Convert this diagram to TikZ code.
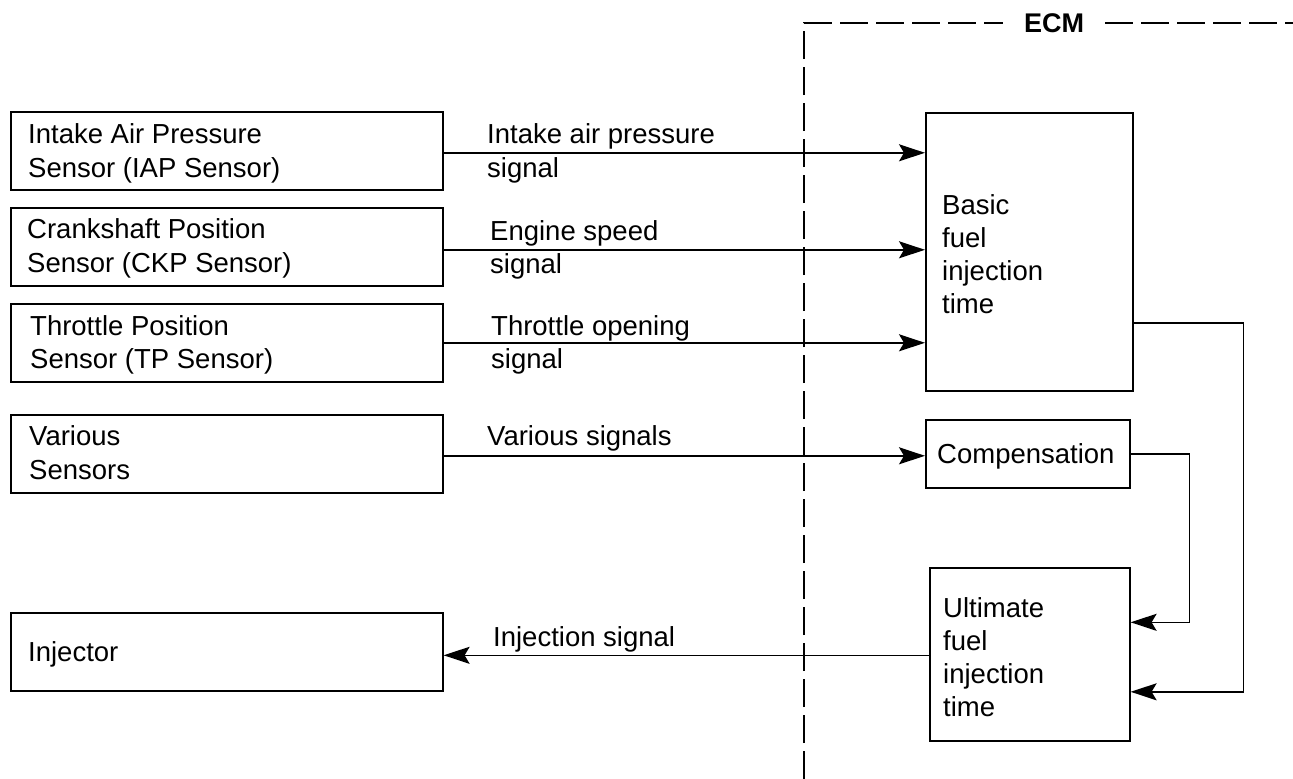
\documentclass[tikz,border=0pt]{standalone}
\usepackage{fontspec}
\setmainfont{Liberation Sans}
\usetikzlibrary{arrows.meta}
\begin{document}
\begin{tikzpicture}[x=1pt,y=-1pt,
  box/.style={draw, line width=1.6pt, inner sep=0pt, anchor=north west},
  txt/.style={anchor=base west, inner sep=0pt, font=\fontsize{27.5}{33}\selectfont},
  arr/.style={line width=1.6pt, -{Stealth[length=26pt,width=17pt,inset=5pt]}},
  ecm/.style={line width=1.5pt, dash pattern=on 28pt off 8pt},
]
\useasboundingbox (0,0) rectangle (1293,779);

% left boxes
\node[box, minimum width=432pt, minimum height=78pt] (iap) at (10,111) {};
\node[box, minimum width=432pt, minimum height=78pt] (ckp) at (10,207) {};
\node[box, minimum width=432pt, minimum height=78pt] (tp)  at (10,303) {};
\node[box, minimum width=432pt, minimum height=78pt] (var) at (10,414) {};
\node[box, minimum width=432pt, minimum height=78pt] (inj) at (10,612) {};

% ECM boxes
\node[box, minimum width=207pt, minimum height=278pt] (basic) at (925,112) {};
\node[box, minimum width=204pt, minimum height=68pt]  (comp)  at (925,419) {};
\node[box, minimum width=200pt, minimum height=173pt] (ult)   at (929,567) {};

% box texts
\node[txt] (t1a) at (28,143) {Intake Air Pressure};
\node[txt] (t1b) at (28,177) {Sensor (IAP Sensor)};
\node[txt] (t2a) at (27,238) {Crankshaft Position};
\node[txt] (t2b) at (27,272) {Sensor (CKP Sensor)};
\node[txt] (t3a) at (30,335) {Throttle Position};
\node[txt] (t3b) at (30,368) {Sensor (TP Sensor)};
\node[txt] (t4a) at (29,445) {Various};
\node[txt] (t4b) at (29,479) {Sensors};
\node[txt] (t5)  at (28,661) {Injector};

\node[txt] (b1) at (942,214) {Basic};
\node[txt] (b2) at (942,247) {fuel};
\node[txt] (b3) at (942,280) {injection};
\node[txt] (b4) at (942,313) {time};
\node[txt] (c1) at (937,463) {Compensation};
\node[txt] (u1) at (943,617) {Ultimate};
\node[txt] (u2) at (943,650) {fuel};
\node[txt] (u3) at (943,683) {injection};
\node[txt] (u4) at (943,716) {time};

% signal labels
\node[txt] (l1a) at (487,143) {Intake air pressure};
\node[txt] (l1b) at (487,177) {signal};
\node[txt] (l2a) at (490,240) {Engine speed};
\node[txt] (l2b) at (490,273) {signal};
\node[txt] (l3a) at (491,335) {Throttle opening};
\node[txt] (l3b) at (491,368) {signal};
\node[txt] (l4)  at (487,445) {Various signals};
\node[txt] (l5)  at (493,646) {Injection signal};

% arrows
\draw[arr] ([yshift=-2pt]iap.east) -- ([yshift=-2pt]iap.east -| basic.west);
\draw[arr] ([yshift=-3pt]ckp.east) -- ([yshift=-3pt]ckp.east -| basic.west);
\draw[arr] (tp.east) -- (tp.east -| basic.west);
\draw[arr] ([yshift=-2pt]var.east) -- ([yshift=-2pt]var.east -| comp.west);
\draw[arr] ([yshift=-1pt]ult.west) -- ([yshift=-1pt]ult.west -| inj.east);
\draw[arr] ([yshift=-71pt]basic.east) -- ++(110,0) |- ([yshift=-37.5pt]ult.east);
\draw[arr] (comp.east) -- ++(59,0) |- ([yshift=32pt]ult.east);

% ECM boundary
\node[inner xsep=21pt, inner ysep=0pt, font=\fontsize{27}{27}\bfseries\selectfont] (ecmlabel) at (1054,23) {ECM};
\coordinate (ecmbot) at (804,779);
\coordinate (ecmend) at (1293,23);
\draw[ecm] (ecmbot) |- (ecmlabel.west);
\draw[ecm] (ecmlabel.east) -- (ecmend);
\end{tikzpicture}
\end{document}
